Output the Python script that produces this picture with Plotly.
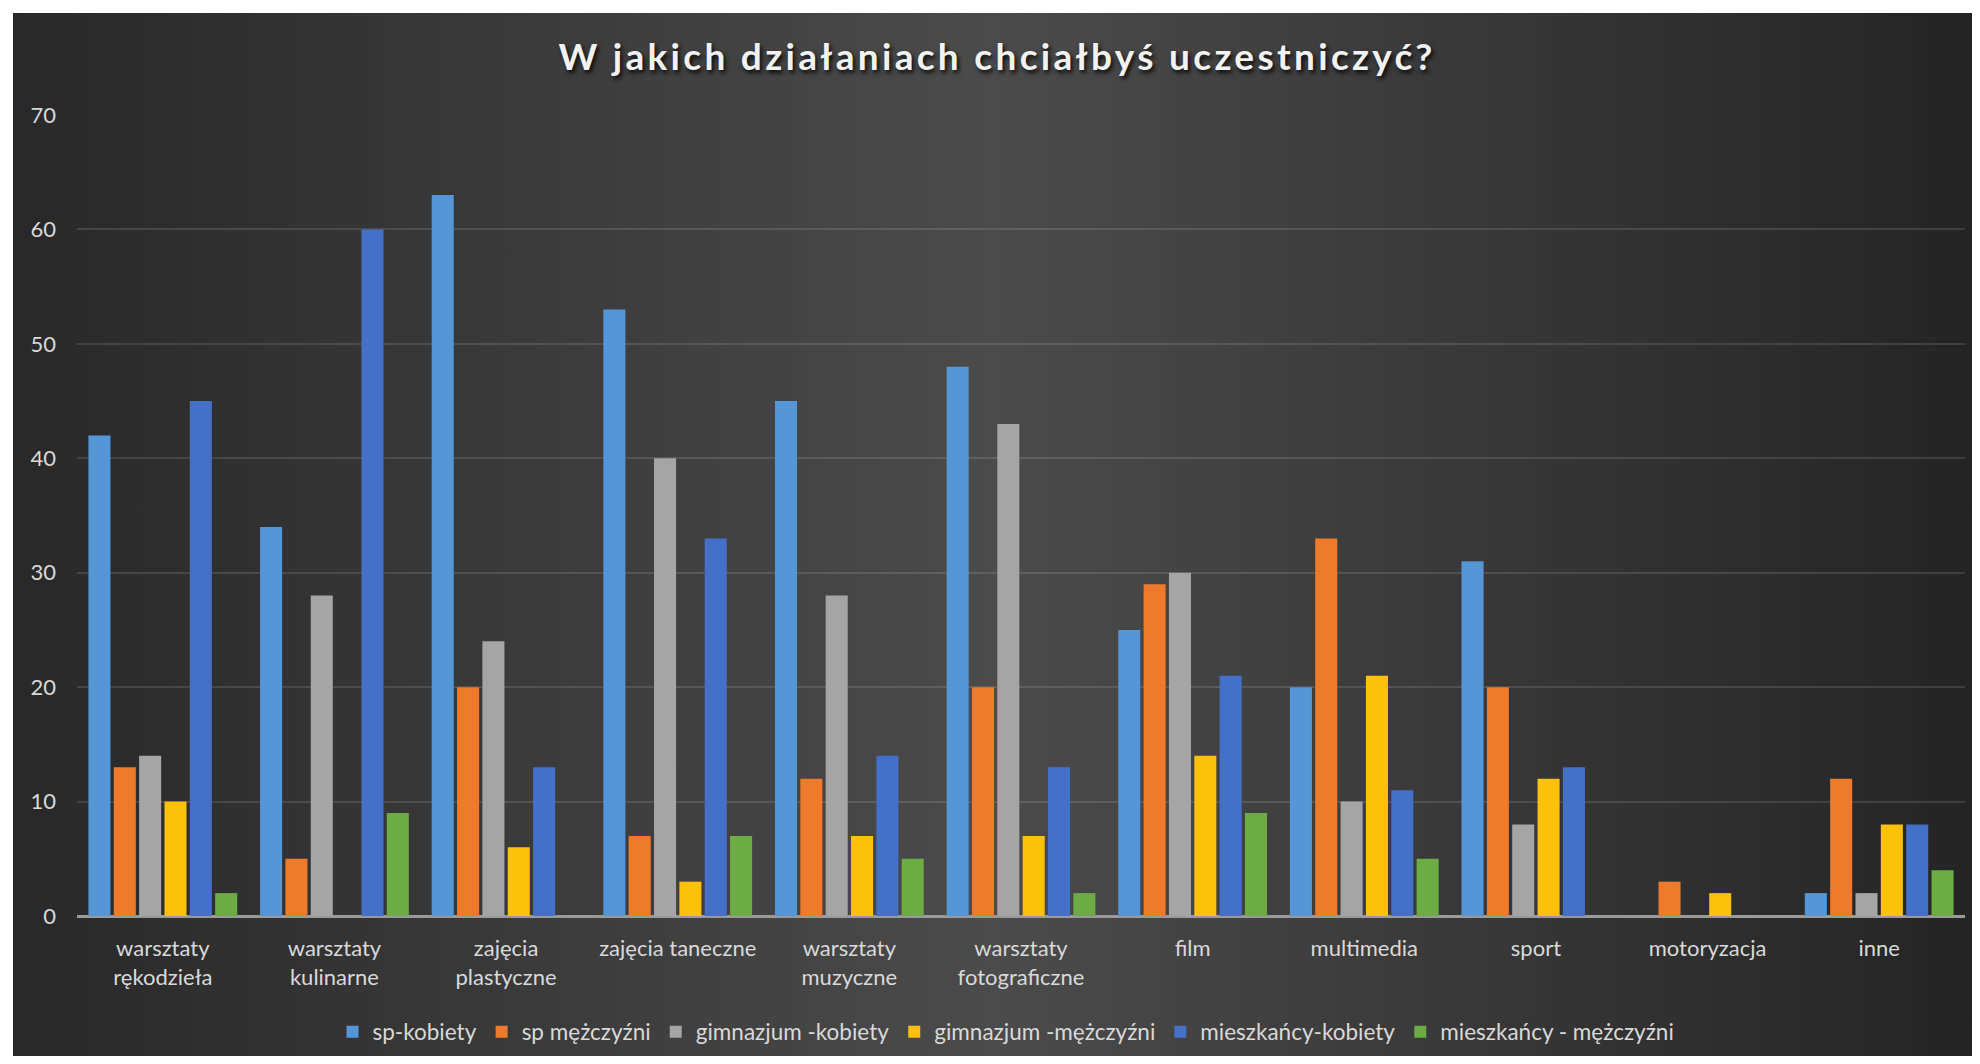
import plotly.graph_objects as go

categories = [
    "warsztaty<br>rękodzieła", "warsztaty<br>kulinarne", "zajęcia<br>plastyczne",
    "zajęcia taneczne", "warsztaty<br>muzyczne", "warsztaty<br>fotograficzne",
    "film", "multimedia", "sport", "motoryzacja", "inne",
]

sp_kobiety = [42, 34, 63, 53, 45, 48, 25, 20, 31, 0, 2]
sp_mezczyzni = [13, 5, 20, 7, 12, 20, 29, 33, 20, 3, 12]
gim_kobiety = [14, 28, 24, 40, 28, 43, 30, 10, 8, 0, 2]
gim_mezczyzni = [10, 0, 6, 3, 7, 7, 14, 21, 12, 2, 8]
mieszk_kobiety = [45, 60, 13, 33, 14, 13, 21, 11, 13, 0, 8]
mieszk_mezczyzni = [2, 9, 0, 7, 5, 2, 9, 5, 0, 0, 4]

series_names = ["sp-kobiety", "sp mężczyźni", "gimnazjum -kobiety",
                "gimnazjum -mężczyźni", "mieszkańcy-kobiety", "mieszkańcy - mężczyźni"]
series_values = [sp_kobiety, sp_mezczyzni, gim_kobiety, gim_mezczyzni,
                 mieszk_kobiety, mieszk_mezczyzni]
series_colors = ["#5597D6", "#EE7A2B", "#A5A5A5", "#FCC10A", "#4470C8", "#6DAC45"]

title_text = "W jakich działaniach chciałbyś uczestniczyć?"
y_ticks = [0, 10, 20, 30, 40, 50, 60, 70]

# figure sized so that, with the page's 8px body margin, it fills the window
W, H = 1964, 1048
OFF = 8  # page body margin
FONT = "Lato, 'Open Sans', sans-serif"
TXT = "#d9d9d9"


def fx(px):  # window x -> figure x
    return px - OFF


def fy(py):  # window y -> figure y
    return py - OFF


fig = go.Figure()

# dark gradient panel inside the white border
fig.add_trace(go.Scatter(
    x=[fx(13), W, W, fx(13), fx(13)], y=[fy(13), fy(13), H, H, fy(13)],
    mode="lines", line=dict(width=0), fill="toself",
    fillgradient=dict(type="horizontal",
                      colorscale=[[0, "#282828"], [0.5, "#4b4b4b"], [1, "#242424"]]),
    hoverinfo="skip", showlegend=False, xaxis="x", yaxis="y",
))

for name, vals, col in zip(series_names, series_values, series_colors):
    fig.add_trace(go.Bar(
        x=categories, y=vals, name=name,
        marker=dict(color=col, line=dict(width=0)),
        xaxis="x2", yaxis="y2",
    ))

x0, x1 = fx(77) / W, fx(1965) / W
y0, y1 = (H - fy(916)) / H, (H - fy(115)) / H

fig.update_layout(
    width=W, height=H,
    margin=dict(l=0, r=0, t=0, b=0, autoexpand=False),
    paper_bgcolor="white",
    plot_bgcolor="rgba(0,0,0,0)",
    barmode="group", bargap=0.114, bargroupgap=0.13,
    xaxis=dict(domain=[0, 1], range=[0, W], visible=False, fixedrange=True,
               automargin=False),
    yaxis=dict(domain=[0, 1], range=[H, 0], visible=False, fixedrange=True,
               automargin=False),
    xaxis2=dict(domain=[x0, x1], anchor="y2", showgrid=False, zeroline=False,
                showline=False, ticks="", automargin=False, ticklabelstandoff=17,
                tickfont=dict(family=FONT, size=22, color=TXT)),
    yaxis2=dict(domain=[y0, y1], anchor="x2", range=[0, 70], automargin=False,
                tickvals=y_ticks, showgrid=True,
                gridcolor="rgba(255,255,255,0.12)", gridwidth=2,
                zeroline=True, zerolinecolor="#9a9a9a", zerolinewidth=3,
                showline=False, ticks="", ticklabelstandoff=20,
                tickfont=dict(family=FONT, size=22, color=TXT)),
    title=dict(text='<span style="letter-spacing:3.3px">' + title_text + "</span>",
               x=fx(997) / W, xref="container", xanchor="center",
               y=1 - fy(57) / H, yref="container", yanchor="middle",
               font=dict(family="Lato, 'Open Sans', sans-serif", size=37,
                         color="#f2f2f2", weight="bold",
                         shadow="2px 3px 4px rgba(0,0,0,0.85)")),
    legend=dict(orientation="h", x=fx(1006) / W, xanchor="center",
                y=(H - fy(1032)) / H, yanchor="middle",
                font=dict(family=FONT, size=22.5, color=TXT),
                bgcolor="rgba(0,0,0,0)", itemwidth=30, traceorder="normal"),
    showlegend=True,
)

fig.write_html("out.html")
